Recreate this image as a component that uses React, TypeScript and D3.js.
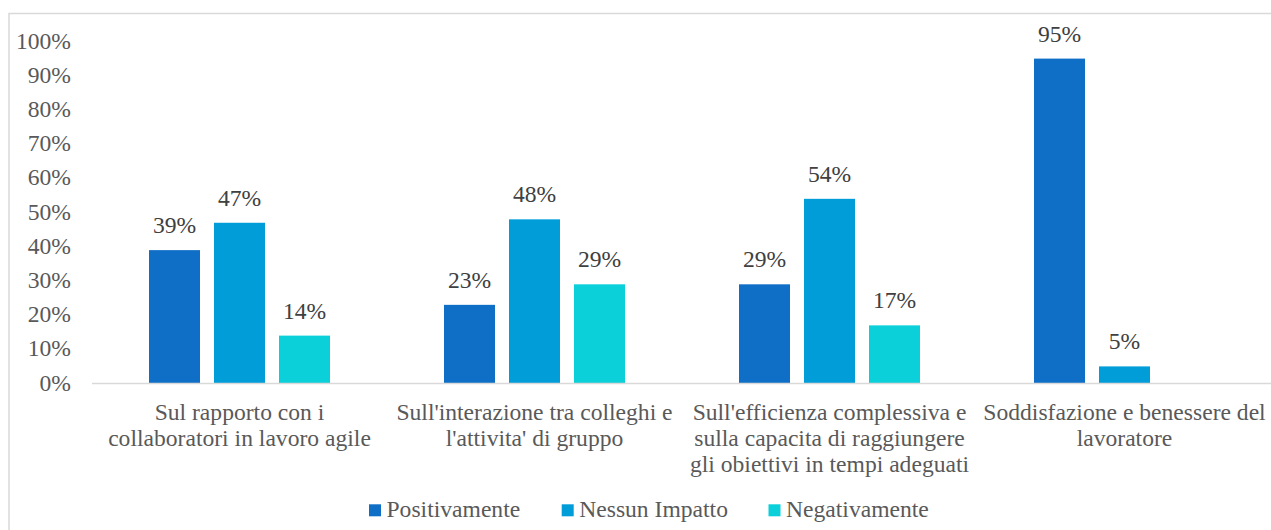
import React from "react";
import * as d3 from "d3";

const categories: string[][] = [
  ["Sul rapporto con i", "collaboratori in lavoro agile"],
  ["Sull'interazione tra colleghi e", "l'attivita' di gruppo"],
  ["Sull'efficienza complessiva e", "sulla capacita di raggiungere", "gli obiettivi in tempi adeguati"],
  ["Soddisfazione e benessere del", "lavoratore"],
];
const seriesNames = ["Positivamente", "Nessun Impatto", "Negativamente"];
const positivamente = [39, 23, 29, 95];
const nessunImpatto = [47, 48, 54, 5];
const negativamente = [14, 29, 17, null];
const yTicks = [0, 10, 20, 30, 40, 50, 60, 70, 80, 90, 100];

const colors = ["#0F6FC6", "#009DD9", "#0BD0D9"];
const textColor = "#595959";
const font = "'Liberation Serif', 'Times New Roman', serif";

export default function App() {
  const W = 1271, H = 530;
  const left = 92, right = 1272, top = 41.5, bottom = 383.5;
  const series = [positivamente, nessunImpatto, negativamente];
  const x0 = d3.scaleBand<number>().domain(d3.range(categories.length)).range([left, right]).paddingInner(0).paddingOuter(0);
  const groupW = 181;
  const x1 = d3.scaleBand<number>().domain([0, 1, 2]).range([0, groupW]).paddingInner(14 / 65).paddingOuter(0);
  const y = d3.scaleLinear().domain([0, 100]).range([bottom, top]);
  const off = (x0.bandwidth() - groupW) / 2;
  const fs = 23.6;

  const legendMarkX = [369, 561.7, 768.5];

  return (
    <svg width={W} height={H} style={{ position: "absolute", left: 0, top: 0, background: "#fff" }} fontFamily={font}>
      <rect x={9} y={13.5} width={1300} height={600} fill="#fff" stroke="#D9D9D9" strokeWidth={1.5} />
      {yTicks.map((t) => (
        <text key={t} x={71} y={y(t)} dy="0.3em" textAnchor="end" fontSize={fs} fill={textColor}>
          {t}%
        </text>
      ))}
      {series.map((vals, si) =>
        vals.map((v, ci) => {
          if (v === null) return null;
          const bx = (x0(ci) as number) + off + (x1(si) as number);
          const bw = x1.bandwidth();
          return (
            <g key={si + "-" + ci}>
              <rect x={bx} y={y(v)} width={bw} height={y(0) - y(v)} fill={colors[si]} />
              <text x={bx + bw / 2} y={y(v) - 17} textAnchor="middle" fontSize={fs} fill="#404040">
                {v}%
              </text>
            </g>
          );
        })
      )}
      <line x1={left} x2={right} y1={bottom} y2={bottom} stroke="#D9D9D9" strokeWidth={1.5} />
      {categories.map((lines, ci) => (
        <text key={ci} textAnchor="middle" fontSize={fs} fill={textColor}>
          {lines.map((l, li) => (
            <tspan key={li} x={(x0(ci) as number) + x0.bandwidth() / 2} y={419.5 + li * 26}>
              {l}
            </tspan>
          ))}
        </text>
      ))}
      {seriesNames.map((n, i) => (
        <g key={n}>
          <rect x={legendMarkX[i]} y={504.3} width={12} height={12} fill={colors[i]} />
          <text x={legendMarkX[i] + 17.5} y={517.3} fontSize={fs} fill={textColor}>
            {n}
          </text>
        </g>
      ))}
    </svg>
  );
}
